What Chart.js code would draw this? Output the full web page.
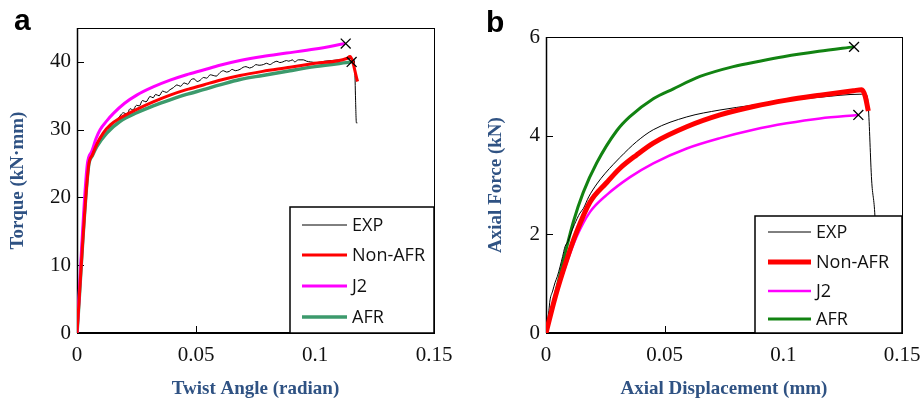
<!DOCTYPE html>
<html lang="en">
<head>
  <meta charset="UTF-8" />
  <title>Torque / Axial force vs. twist and displacement</title>
  <style>
    body { margin: 0; background: #fff; overflow: hidden; }
    #wrap { position: relative; width: 923px; height: 403px; overflow: hidden; }
    canvas { position: absolute; top: 0; }
    #chart-a { left: 0; }
    #chart-b { left: 460px; }
    .panel-label {
      position: absolute;
      z-index: 2;
      font: bold 30px "Liberation Sans", Arial, sans-serif;
      line-height: 30px;
      color: #000;
    }
  </style>
  <script src="https://cdn.jsdelivr.net/npm/chart.js"></script>
</head>
<body>
  <div id="wrap">
    <canvas id="chart-a" width="470" height="403"></canvas>
    <canvas id="chart-b" width="480" height="403"></canvas>
    <div class="panel-label" style="left:14px;top:5px">a</div>
    <div class="panel-label" style="left:486px;top:7px">b</div>
  </div>

  <script>
    // ---- panel a: torque vs twist angle ----
    const twistTicks = [0, 0.05, 0.1, 0.15];
    const torqueTicks = [0, 10, 20, 30, 40];

    const aExpX = [0, 0.0015, 0.003, 0.0045, 0.006, 0.008, 0.0097, 0.011, 0.012, 0.0135, 0.0153, 0.0165,
      0.018, 0.0195, 0.021, 0.0223, 0.0235, 0.025, 0.0262, 0.0275, 0.029, 0.0307, 0.032, 0.033, 0.0345, 0.036,
      0.0375, 0.0391, 0.0405, 0.042, 0.0435, 0.045, 0.0465, 0.048, 0.0492, 0.0505, 0.0518, 0.0531, 0.0545, 0.056,
      0.0572, 0.0585, 0.06, 0.0615, 0.0628, 0.064, 0.0652, 0.0665, 0.0685, 0.0698, 0.071, 0.0725, 0.074, 0.0752,
      0.0765, 0.0783, 0.0797, 0.081, 0.0825, 0.084, 0.0852, 0.0865, 0.088, 0.089, 0.0905, 0.0915, 0.093, 0.0951,
      0.0965, 0.098, 0.101, 0.104, 0.107, 0.11, 0.113, 0.1155, 0.1165, 0.1168, 0.117, 0.1174, 0.1178];
    const aExpY = [0, 8, 16.5, 23.5, 26, 27.5, 28.5, 29.4, 30.0, 30.3, 31.0, 31.3,
      32.0, 32.5, 32.3, 33.1, 32.9, 33.6, 33.5, 34.3, 34.1, 34.9, 34.7, 35.2, 35.0, 35.7,
      35.5, 35.9, 36.2, 36.6, 36.4, 36.9, 36.7, 37.4, 37.5, 37.1, 37.3, 37.7, 37.6, 38.1,
      38.0, 37.9, 38.4, 38.7, 38.5, 38.6, 38.9, 38.7, 38.9, 39.2, 39.3, 39.1, 39.3, 39.6,
      39.5, 39.6, 39.8, 39.6, 39.9, 40.1, 39.9, 40.0, 40.2, 40.1, 40.3, 40.0, 40.3, 40.3,
      40.1, 40.0, 39.9, 40.1, 40.2, 40.3, 40.4, 40.5, 40.2, 38, 35, 31.0, 31.0];

    const aNonAfrX = [0, 0.0048, 0.0065, 0.0085, 0.011, 0.014, 0.018, 0.0251, 0.032, 0.0391, 0.046, 0.0531, 0.06,
      0.0685, 0.078, 0.0895, 0.1, 0.1133, 0.1147, 0.1179];
    const aNonAfrY = [0, 24.5, 26.3, 28.0, 29.5, 30.7, 31.7, 33.0, 34.1, 35.1, 35.9, 36.6, 37.3,
      38.0, 38.6, 39.2, 39.8, 40.5, 40.8, 37.1];

    const aJ2X = [0, 0.0043, 0.0062, 0.008, 0.0097, 0.0125, 0.0153, 0.02, 0.0251, 0.032, 0.0391, 0.046, 0.0531,
      0.06, 0.0685, 0.078, 0.0881, 0.1, 0.1126];
    const aJ2Y = [0, 24.8, 26.8, 28.7, 30.0, 31.3, 32.4, 33.9, 35.1, 36.3, 37.3, 38.1, 38.8,
      39.5, 40.2, 40.8, 41.3, 41.9, 42.7];

    const aAfrX = [0, 0.0048, 0.0065, 0.0083, 0.0125, 0.018, 0.0251, 0.032, 0.0391, 0.046, 0.0531, 0.06, 0.0685,
      0.078, 0.0895, 0.1, 0.1154];
    const aAfrY = [0, 24.5, 26.2, 27.5, 29.5, 31.2, 32.5, 33.5, 34.4, 35.2, 35.9, 36.6, 37.4,
      38.0, 38.7, 39.3, 40.0];

    const aFailX = [0.1129, 0.1154];
    const aFailY = [42.7, 40.0];

    // ---- panel b: axial force vs axial displacement ----
    const dispTicks = [0, 0.05, 0.1, 0.15];
    const forceTicks = [0, 2, 4, 6];

    const bExpX = [0, 0.0012, 0.0017, 0.0028, 0.0038, 0.0048, 0.0059, 0.007, 0.008, 0.0092, 0.0101, 0.012, 0.0143,
      0.0157, 0.018, 0.0214, 0.025, 0.0284, 0.0312, 0.0382, 0.0452, 0.0593, 0.0733, 0.0874, 0.1014, 0.1155,
      0.1323, 0.1351, 0.1358, 0.1372, 0.1386, 0.14];
    const bExpY = [0, 0.45, 0.67, 0.85, 1.02, 1.15, 1.34, 1.55, 1.75, 1.85, 1.97, 2.2, 2.43,
      2.52, 2.76, 3.02, 3.24, 3.42, 3.56, 3.88, 4.12, 4.38, 4.52, 4.62, 4.71, 4.78,
      4.84, 4.82, 4.6, 3.1, 2.36, 0.5];

    const bNonAfrX = [0, 0.004, 0.0087, 0.0129, 0.0185, 0.0256, 0.0312, 0.0382, 0.0452, 0.0593, 0.0733, 0.0874,
      0.1014, 0.1155, 0.1295, 0.133, 0.1345, 0.1358];
    const bNonAfrY = [0, 0.75, 1.48, 2.05, 2.65, 3.05, 3.34, 3.61, 3.85, 4.18, 4.42, 4.59,
      4.72, 4.82, 4.91, 4.93, 4.8, 4.5];

    const bJ2X = [0, 0.004, 0.0087, 0.0129, 0.0185, 0.0256, 0.0354, 0.0452, 0.0593, 0.0733, 0.0874, 0.1014,
      0.1155, 0.1316];
    const bJ2Y = [0, 0.72, 1.42, 1.95, 2.45, 2.8, 3.16, 3.44, 3.74, 3.95, 4.12, 4.25,
      4.35, 4.42];

    const bAfrX = [0, 0.0045, 0.008, 0.0115, 0.0157, 0.0214, 0.0298, 0.0352, 0.0452, 0.0537, 0.0649, 0.0789, 0.09,
      0.1, 0.115, 0.1298];
    const bAfrY = [0, 0.9, 1.6, 2.25, 2.85, 3.45, 4.1, 4.38, 4.75, 4.95, 5.2, 5.4, 5.51,
      5.6, 5.71, 5.8];

    const bFailX = [0.1298, 0.1316];
    const bFailY = [5.8, 4.42];

    const titleColor = '#2f5283';
    const serif = '"Liberation Serif", "Times New Roman", serif';

    function pts(xs, ys) {
      return xs.map((x, i) => ({ x: x, y: ys[i] }));
    }

    function series(label, xs, ys, color, width, order) {
      return {
        label: label,
        data: pts(xs, ys),
        borderColor: color,
        backgroundColor: color,
        borderWidth: width,
        pointRadius: 0,
        cubicInterpolationMode: 'monotone',
        borderJoinStyle: 'round',
        order: order,
      };
    }

    function failMarks(xs, ys) {
      return {
        data: pts(xs, ys),
        showLine: false,
        pointStyle: 'crossRot',
        pointRadius: 7,
        pointBorderWidth: 1.3,
        pointBorderColor: '#000',
        borderColor: '#000',
        hideInLegend: true,
        order: 0,
      };
    }

    // axis box + short inward tick marks
    const framePlugin = {
      id: 'frame',
      beforeDatasetsDraw(chart, args, opts) {
        const { ctx, chartArea: a, scales } = chart;
        const x = scales.x, y = scales.y;
        ctx.save();
        ctx.strokeStyle = '#000';
        ctx.lineWidth = 1;
        ctx.beginPath();
        opts.xTicks.forEach((v) => {
          if (v <= x.min || v >= x.max) return;
          const px = Math.round(x.getPixelForValue(v)) + 0.5;
          ctx.moveTo(px, a.bottom);
          ctx.lineTo(px, a.bottom - 7);
        });
        opts.yTicks.forEach((v) => {
          if (v <= y.min || v >= y.max) return;
          const py = Math.round(y.getPixelForValue(v)) + 0.5;
          ctx.moveTo(a.left, py);
          ctx.lineTo(a.left + 7, py);
        });
        ctx.stroke();
        ctx.strokeRect(a.left + 0.5, a.top + 0.5, a.width, a.height);
        ctx.lineWidth = 1.5;
        ctx.beginPath();
        ctx.moveTo(a.left + 0.5, a.top);
        ctx.lineTo(a.left + 0.5, a.bottom);
        ctx.stroke();
        ctx.lineWidth = 2;
        ctx.beginPath();
        ctx.moveTo(a.left, a.bottom);
        ctx.lineTo(a.right + 1, a.bottom);
        ctx.stroke();
        ctx.restore();
      },
    };

    // boxed legend in the lower right corner of the plot area
    const boxLegend = {
      id: 'boxLegend',
      afterDatasetsDraw(chart, args, opts) {
        const { ctx, chartArea: a } = chart;
        const left = a.right - opts.width;
        const top = a.bottom - opts.height;
        ctx.save();
        ctx.fillStyle = '#fff';
        ctx.fillRect(left, top, opts.width, opts.height);
        ctx.strokeStyle = '#000';
        ctx.lineWidth = 1.5;
        ctx.strokeRect(left, top, opts.width, opts.height);
        ctx.font = opts.font;
        ctx.textBaseline = 'middle';
        const items = chart.data.datasets.filter((d) => !d.hideInLegend);
        items.forEach((d, i) => {
          const ry = top + opts.rows[i];
          ctx.strokeStyle = d.borderColor;
          ctx.lineWidth = d.borderWidth;
          ctx.beginPath();
          ctx.moveTo(left + opts.sampleX, ry);
          ctx.lineTo(left + opts.sampleX + opts.sampleLen, ry);
          ctx.stroke();
          ctx.fillStyle = '#111';
          ctx.fillText(d.label, left + opts.textX, ry + 1);
        });
        ctx.restore();
      },
    };

    function buildChart(id, cfg) {
      return new Chart(document.getElementById(id), {
        type: 'line',
        data: { datasets: cfg.datasets },
        options: {
          responsive: false,
          animation: false,
          layout: { padding: cfg.padding },
          plugins: {
            legend: { display: false },
            tooltip: { enabled: false },
            frame: { xTicks: cfg.xTicks, yTicks: cfg.yTicks },
            boxLegend: cfg.legend,
          },
          scales: {
            x: {
              type: 'linear',
              min: 0,
              max: cfg.xMax,
              grid: { display: false, drawTicks: false },
              border: { display: false },
              afterBuildTicks: (s) => { s.ticks = cfg.xTicks.map((v) => ({ value: v })); },
              afterFit: (s) => { s.height = 70; },
              ticks: {
                padding: 10,
                color: '#111',
                font: { family: serif, size: 21 },
                callback: (v) => String(v),
              },
              title: {
                display: true,
                text: cfg.xTitle,
                color: titleColor,
                font: { family: serif, size: 19, weight: 'bold' },
                padding: { top: 0, bottom: 3 },
              },
            },
            y: {
              type: 'linear',
              min: 0,
              max: cfg.yMax,
              grid: { display: false, drawTicks: false },
              border: { display: false },
              afterBuildTicks: (s) => { s.ticks = cfg.yTicks.map((v) => ({ value: v })); },
              afterFit: (s) => { s.width = cfg.yWidth; },
              ticks: {
                padding: 6,
                color: '#111',
                font: { family: serif, size: 21 },
              },
              title: {
                display: true,
                text: cfg.yTitle,
                color: titleColor,
                font: { family: serif, size: 19, weight: 'bold' },
                padding: { top: cfg.yTitlePad, bottom: 0 },
              },
            },
          },
        },
        plugins: [framePlugin, boxLegend],
      });
    }

    buildChart('chart-a', {
      datasets: [
        series('EXP', aExpX, aExpY, '#000000', 1, 2),
        series('Non-AFR', aNonAfrX, aNonAfrY, '#ff0000', 3, 1),
        series('J2', aJ2X, aJ2Y, '#ff00ff', 3, 3),
        series('AFR', aAfrX, aAfrY, '#3c9a6c', 3.5, 4),
        failMarks(aFailX, aFailY),
      ],
      padding: { left: 0, top: 28, right: 36, bottom: 0 },
      xMax: 0.15,
      yMax: 45,
      xTicks: twistTicks,
      yTicks: torqueTicks,
      yWidth: 77,
      yTitlePad: 7,
      xTitle: 'Twist Angle (radian)',
      yTitle: 'Torque (kN\u00b7mm)',
      legend: {
        width: 144, height: 126, rows: [18, 48, 79, 110],
        sampleX: 12, sampleLen: 45, textX: 62,
        font: '18px "Open Sans", "Noto Sans", sans-serif',
      },
    });

    buildChart('chart-b', {
      datasets: [
        series('EXP', bExpX, bExpY, '#000000', 1, 2),
        series('Non-AFR', bNonAfrX, bNonAfrY, '#ff0000', 5, 1),
        series('J2', bJ2X, bJ2Y, '#ff00ff', 2.5, 3),
        series('AFR', bAfrX, bAfrY, '#128312', 3, 4),
        failMarks(bFailX, bFailY),
      ],
      padding: { left: 0, top: 37, right: 38, bottom: 0 },
      xMax: 0.15,
      yMax: 6,
      xTicks: dispTicks,
      yTicks: forceTicks,
      yWidth: 86,
      yTitlePad: 25,
      xTitle: 'Axial Displacement (mm)',
      yTitle: 'Axial Force (kN)',
      legend: {
        width: 147, height: 117, rows: [16, 46, 75, 103],
        sampleX: 13, sampleLen: 43, textX: 61,
        font: '18px "Open Sans", "Noto Sans", sans-serif',
      },
    });
  </script>
</body>
</html>
